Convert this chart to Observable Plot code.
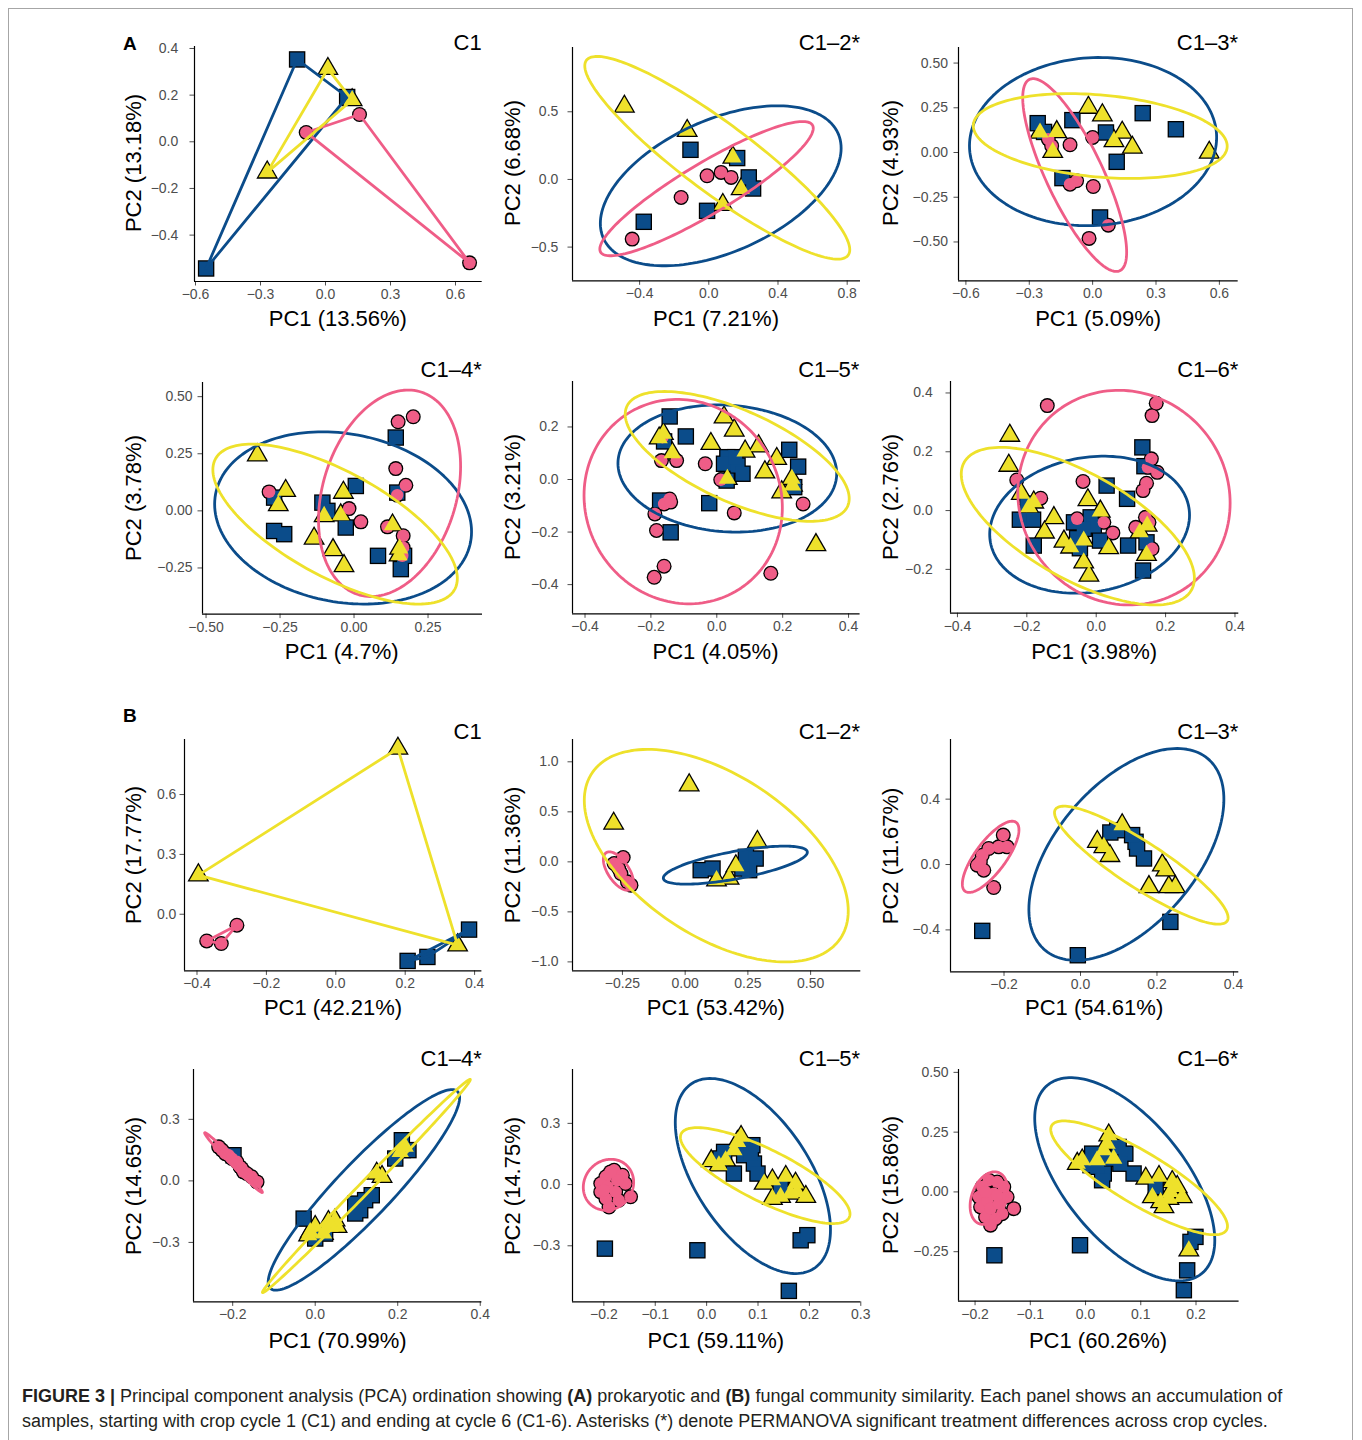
<!DOCTYPE html>
<html>
<head>
<meta charset="utf-8">
<script src="https://cdn.jsdelivr.net/npm/d3@7"></script>
<script src="https://cdn.jsdelivr.net/npm/@observablehq/plot@0.6"></script>
<style>
  html, body { margin: 0; padding: 0; background: #fff; }
  #fig { position: relative; width: 1362px; height: 1440px; overflow: hidden; font-family: "Liberation Sans", Arial, Helvetica, sans-serif; }
  #border { position: absolute; left: 8px; top: 8px; width: 1345px; height: 1460px; border: 1px solid #a6a6a6; box-sizing: border-box; }
  .panel { position: absolute; }
  .t { position: absolute; white-space: nowrap; line-height: 1; color: #000; }
  .xl { font-size: 22px; transform: translate(-50%, -50%); }
  .yl { font-size: 22px; transform: translate(-50%, -50%) rotate(-90deg); }
  .ti { font-size: 22px; transform: translate(-100%, -50%); }
  .tag { font-size: 19px; font-weight: bold; }
  .cap { position: absolute; left: 22px; font-size: 18px; color: #231f20; white-space: nowrap; line-height: 1; transform: translateY(-50%); }
</style>
</head>
<body>
<div id="fig"><div id="border"></div></div>
<script>
// ---------------- DATA ----------------
// Symbol groups: circle = pink, square = blue, triangle = yellow
// (A) prokaryotic
const A1_circles = [[-0.089,0.040],[0.157,0.117],[0.665,-0.519]];
const A1_squares = [[-0.131,0.353],[0.100,0.192],[-0.551,-0.543]];
const A1_triangles = [[0.011,0.313],[0.123,0.179],[-0.269,-0.131]];

const A2_circles = [[-0.010,0.027],[0.071,0.052],[0.129,0.015],[-0.160,-0.133],[-0.443,-0.441]];
const A2_squares = [[-0.106,0.219],[0.164,0.158],[0.231,0.015],[0.256,-0.067],[-0.010,-0.232],[-0.376,-0.313]];
const A2_triangles = [[-0.488,0.539],[-0.125,0.360],[0.139,0.163],[0.187,-0.071],[0.081,-0.187]];
const A2_ellipses = [["square",0.069,-0.047,0.696,0.591,0.47],["circle",-0.013,-0.068,0.617,0.496,0.90],["triangle",0.049,0.160,0.766,0.749,-0.907]];

const A3_circles = [[-0.194,0.037],[-0.107,0.043],[0.000,0.084],[-0.107,-0.177],[-0.076,-0.158],[0.003,-0.190],[0.074,-0.406],[-0.017,-0.480],[-0.210,0.075]];
const A3_squares = [[-0.260,0.164],[-0.230,0.115],[-0.096,0.181],[0.063,0.112],[0.237,0.220],[0.394,0.130],[0.114,-0.052],[-0.143,-0.143],[0.035,-0.363]];
const A3_triangles = [[-0.020,0.251],[0.046,0.209],[-0.170,0.115],[-0.249,0.112],[0.140,0.112],[0.101,0.065],[0.188,0.028],[-0.189,0.004],[0.552,0.000]];
const A3_ellipses = [["square",0.002,0.061,0.585,0.470,0.05],["circle",-0.085,-0.126,0.246,0.539,-0.80],["triangle",0.036,0.092,0.601,0.237,-0.24]];

const A4_circles = [[0.149,0.390],[0.200,0.412],[0.141,0.185],[0.175,0.112],[0.146,0.069],[-0.287,0.083],[-0.017,0.010],[0.023,-0.048],[0.113,-0.070],[0.166,-0.109],[0.166,-0.161],[0.163,-0.197]];
const A4_squares = [[0.141,0.321],[0.006,0.109],[0.146,0.080],[-0.270,0.058],[-0.107,0.036],[-0.090,0.000],[-0.028,-0.073],[-0.270,-0.088],[-0.236,-0.102],[0.081,-0.197],[0.169,-0.197],[0.158,-0.255]];
const A4_triangles = [[-0.327,0.244],[-0.231,0.088],[-0.256,0.026],[-0.036,0.080],[-0.045,-0.019],[-0.101,-0.022],[-0.135,-0.121],[-0.071,-0.171],[-0.034,-0.241],[0.130,-0.063],[0.154,-0.165],[0.152,-0.194]];
const A4_ellipses = [["square",-0.037,-0.031,0.434,0.377,-0.16],["circle",0.120,0.077,0.240,0.452,0.26],["triangle",-0.064,-0.058,0.413,0.350,-0.68]];

const A5_circles = [[-0.168,0.072],[-0.122,0.072],[-0.035,0.060],[0.012,-0.001],[-0.143,-0.074],[-0.160,-0.093],[-0.188,-0.131],[-0.183,-0.194],[-0.160,-0.330],[-0.190,-0.372],[0.053,-0.127],[0.164,-0.357],[0.262,-0.093],[-0.165,0.161],[-0.140,-0.086]];
const A5_squares = [[-0.143,0.240],[-0.094,0.164],[-0.160,0.145],[0.032,0.085],[0.022,0.060],[0.063,0.053],[0.078,0.022],[0.030,-0.004],[0.220,0.113],[0.247,0.049],[0.235,-0.029],[-0.023,-0.090],[-0.172,-0.080],[-0.140,-0.201],[0.056,0.085]];
const A5_triangles = [[0.022,0.237],[0.053,0.187],[-0.162,0.174],[-0.018,0.136],[-0.135,0.100],[0.086,0.107],[0.127,0.127],[0.182,0.079],[0.146,0.028],[0.228,0.003],[0.197,-0.048],[0.301,-0.249],[0.032,0.003],[-0.175,0.157],[0.230,-0.023]];
const A5_ellipses = [["square",0.032,0.042,0.332,0.242,-0.08],["circle",-0.102,-0.084,0.301,0.389,-0.06],["triangle",0.062,0.088,0.340,0.247,-0.65]];

const A6_circles = [[-0.141,0.357],[0.173,0.365],[0.161,0.323],[0.159,0.176],[0.149,0.147],[0.176,0.130],[0.145,0.093],[0.135,0.068],[-0.038,0.099],[-0.229,0.104],[-0.160,0.042],[-0.055,-0.028],[0.048,-0.076],[0.142,-0.023],[0.152,-0.040],[0.114,-0.057],[0.161,-0.130],[0.022,-0.040]];
const A6_squares = [[0.133,0.215],[0.139,0.151],[0.030,0.085],[0.089,0.040],[-0.220,-0.031],[-0.182,-0.031],[-0.180,-0.119],[-0.064,-0.040],[-0.016,-0.023],[-0.007,-0.051],[-0.055,-0.094],[-0.047,-0.128],[0.011,-0.102],[0.092,-0.119],[0.145,-0.108],[0.135,-0.204],[-0.199,0.023],[-0.036,-0.062]];
const A6_triangles = [[-0.249,0.255],[-0.252,0.153],[-0.216,0.057],[-0.180,0.028],[-0.024,0.036],[0.012,-0.003],[-0.122,-0.025],[-0.149,-0.074],[-0.093,-0.105],[0.036,-0.127],[-0.036,-0.176],[-0.021,-0.221],[0.126,-0.074],[0.145,-0.150],[0.147,-0.051],[-0.036,-0.102],[-0.194,0.011],[-0.074,-0.125]];
const A6_ellipses = [["square",-0.019,-0.048,0.288,0.233,0.14],["circle",0.080,0.044,0.306,0.365,-0.05],["triangle",-0.053,-0.053,0.336,0.268,-0.66]];

// (B) fungal
const B1_circles = [[-0.372,-0.134],[-0.330,-0.147],[-0.285,-0.055]];
const B1_squares = [[0.207,-0.234],[0.264,-0.214],[0.384,-0.077]];
const B1_triangles = [[0.179,0.831],[-0.396,0.196],[0.351,-0.155]];

const B2_circles = [[-0.247,0.043],[-0.265,-0.067],[-0.216,-0.233],[-0.283,-0.017],[-0.256,-0.117],[-0.230,-0.200]];
const B2_squares = [[0.062,-0.083],[0.109,-0.067],[0.242,0.050],[0.281,0.033],[0.255,-0.083],[0.228,-0.067]];
const B2_triangles = [[0.016,0.767],[-0.285,0.383],[0.288,0.200],[0.202,-0.043],[0.125,-0.183],[0.175,-0.167]];
const B2_ellipses = [["square",0.200,-0.033,0.287,0.190,0.68],["circle",-0.266,-0.092,0.060,0.192,-0.60],["triangle",0.124,0.062,0.526,1.062,-0.52]];

const B3_circles = [[-0.202,0.180],[-0.192,0.108],[-0.240,0.098],[-0.257,0.057],[-0.262,0.016],[-0.253,-0.035],[-0.227,-0.141],[-0.214,0.108],[-0.270,-0.004]];
const B3_squares = [[-0.257,-0.406],[-0.007,-0.555],[0.235,-0.351],[0.078,0.196],[0.144,0.139],[0.148,0.098],[0.166,0.037],[0.135,0.180],[0.096,0.210]];
const B3_triangles = [[0.109,0.241],[0.044,0.139],[0.061,0.108],[0.077,0.053],[0.214,-0.004],[0.223,-0.035],[0.179,-0.137],[0.231,-0.137],[0.248,-0.137]];
const B3_ellipses = [["square",0.120,0.062,0.255,0.648,0.52],["circle",-0.235,0.047,0.074,0.218,0.76],["triangle",0.159,-0.004,0.227,0.361,-0.89]];

const B4_circles = [[-0.234,0.166],[-0.226,0.150],[-0.218,0.133],[-0.210,0.125],[-0.202,0.109],[-0.190,0.093],[-0.182,0.068],[-0.178,0.060],[-0.174,0.044],[-0.166,0.036],[-0.154,0.020],[-0.141,-0.005]];
const B4_squares = [[-0.198,0.125],[-0.028,-0.184],[0.000,-0.281],[0.024,-0.257],[0.097,-0.111],[0.109,-0.143],[0.137,-0.070],[0.097,-0.159],[0.210,0.198],[0.194,0.109],[0.226,0.150],[0.121,-0.094]];
const B4_triangles = [[-0.012,-0.249],[0.000,-0.224],[0.036,-0.224],[0.048,-0.192],[0.053,-0.224],[0.020,-0.257],[0.149,0.036],[0.162,0.020],[0.206,0.141],[0.218,0.166],[0.032,-0.200],[-0.016,-0.265]];
const B4_ellipses = [["square",0.118,-0.044,0.232,0.489,0.92],["circle",-0.198,0.089,0.070,0.146,-0.99],["triangle",0.124,-0.025,0.252,0.520,0.997]];

const B5_circles = [[-0.180,0.070],[-0.196,0.038],[-0.206,0.005],[-0.206,-0.036],[-0.196,-0.069],[-0.190,-0.110],[-0.171,-0.077],[-0.148,-0.060],[-0.158,0.005],[-0.164,0.046],[-0.193,-0.011],[-0.174,0.021],[-0.187,0.062],[-0.200,-0.028],[-0.177,-0.036]];
const B5_squares = [[-0.198,-0.314],[-0.018,-0.322],[0.160,-0.521],[0.183,-0.273],[0.196,-0.248],[0.053,0.054],[0.034,0.160],[0.073,0.185],[0.089,0.193],[0.073,0.144],[0.092,0.103],[0.099,0.054],[0.144,-0.011],[0.086,0.152],[0.027,0.128]];
const B5_triangles = [[0.067,0.234],[0.060,0.209],[0.009,0.116],[0.037,0.119],[0.053,0.168],[0.128,0.021],[0.154,0.038],[0.173,0.005],[0.128,-0.069],[0.193,-0.060],[0.163,-0.044],[0.144,-0.060],[0.112,0.005],[0.176,-0.036],[0.024,0.095]];
const B5_ellipses = [["square",0.090,0.042,0.151,0.478,-0.55],["circle",-0.191,-0.001,0.049,0.125,0.10],["triangle",0.114,0.044,0.165,0.235,-0.80]];

const B6_circles = [[-0.175,0.049],[-0.187,0.021],[-0.193,-0.021],[-0.190,-0.063],[-0.181,-0.105],[-0.172,-0.139],[-0.163,-0.112],[-0.151,-0.091],[-0.130,-0.070],[-0.142,-0.021],[-0.148,0.021],[-0.160,0.042],[-0.166,-0.007],[-0.178,-0.035],[-0.172,-0.070],[-0.157,-0.049],[-0.181,0.000],[-0.160,-0.014]];
const B6_squares = [[-0.165,-0.265],[-0.010,-0.223],[0.178,-0.411],[0.184,-0.328],[0.190,-0.209],[0.199,-0.188],[0.012,0.160],[0.009,0.112],[0.033,0.077],[0.030,0.049],[0.060,0.188],[0.072,0.160],[0.087,0.077],[0.127,0.021],[0.045,0.139],[0.027,0.146],[0.021,0.105],[0.063,0.118]];
const B6_triangles = [[0.042,0.237],[0.039,0.202],[-0.006,0.132],[0.021,0.132],[0.051,0.139],[0.109,0.056],[0.133,0.063],[0.157,0.042],[0.166,0.021],[0.121,-0.021],[0.151,-0.028],[0.175,-0.021],[0.142,-0.063],[0.187,-0.244],[0.033,0.174],[-0.015,0.118],[0.154,0.000],[0.136,-0.042]];
const B6_ellipses = [["square",0.071,0.053,0.163,0.425,-0.60],["circle",-0.175,-0.026,0.034,0.110,0.30],["triangle",0.097,0.059,0.160,0.238,-0.85]];

// Titles and axis labels
const panelIds = ["A1","A2","A3","A4","A5","A6","B1","B2","B3","B4","B5","B6"];
const titles = ["C1","C1\u20132*","C1\u20133*","C1\u20134*","C1\u20135*","C1\u20136*","C1","C1\u20132*","C1\u20133*","C1\u20134*","C1\u20135*","C1\u20136*"];
const xLabels = ["PC1 (13.56%)","PC1 (7.21%)","PC1 (5.09%)","PC1 (4.7%)","PC1 (4.05%)","PC1 (3.98%)","PC1 (42.21%)","PC1 (53.42%)","PC1 (54.61%)","PC1 (70.99%)","PC1 (59.11%)","PC1 (60.26%)"];
const yLabels = ["PC2 (13.18%)","PC2 (6.68%)","PC2 (4.93%)","PC2 (3.78%)","PC2 (3.21%)","PC2 (2.76%)","PC2 (17.77%)","PC2 (11.36%)","PC2 (11.67%)","PC2 (14.65%)","PC2 (14.75%)","PC2 (15.86%)"];
// Tick values
const xTicks = [[-0.6,-0.3,0,0.3,0.6],[-0.4,0,0.4,0.8],[-0.6,-0.3,0,0.3,0.6],[-0.5,-0.25,0,0.25],[-0.4,-0.2,0,0.2,0.4],[-0.4,-0.2,0,0.2,0.4],
                [-0.4,-0.2,0,0.2,0.4],[-0.25,0,0.25,0.5],[-0.2,0,0.2,0.4],[-0.2,0,0.2,0.4],[-0.2,-0.1,0,0.1,0.2,0.3],[-0.2,-0.1,0,0.1,0.2]];
const yTicks = [[-0.4,-0.2,0,0.2,0.4],[-0.5,0,0.5],[-0.5,-0.25,0,0.25,0.5],[-0.25,0,0.25,0.5],[-0.4,-0.2,0,0.2],[-0.2,0,0.2,0.4],
                [0,0.3,0.6],[-1,-0.5,0,0.5,1],[-0.4,0,0.4],[-0.3,0,0.3],[-0.3,0,0.3],[-0.25,0,0.25,0.5]];
const xDecimals = [1,1,1,2,1,1,1,2,1,1,1,1];
const yDecimals = [1,1,2,2,1,1,1,1,1,1,1,2];
// Axis ranges (data units)
const xDomains = [[-0.6046,0.7232],[-0.788,0.877],[-0.635,0.689],[-0.512,0.434],[-0.438,0.435],[-0.420,0.411],
                  [-0.436,0.421],[-0.449,0.700],[-0.340,0.414],[-0.295,0.404],[-0.261,0.300],[-0.230,0.278]];
const yDomains = [[-0.5988,0.4085],[-0.749,0.975],[-0.717,0.587],[-0.452,0.562],[-0.511,0.373],[-0.349,0.439],
                  [-0.284,0.876],[-1.09,1.223],[-0.657,0.765],[-0.590,0.543],[-0.575,0.564],[-0.457,0.512]];

const DATA = {
  A1:[A1_circles,A1_squares,A1_triangles,null], A2:[A2_circles,A2_squares,A2_triangles,A2_ellipses],
  A3:[A3_circles,A3_squares,A3_triangles,A3_ellipses], A4:[A4_circles,A4_squares,A4_triangles,A4_ellipses],
  A5:[A5_circles,A5_squares,A5_triangles,A5_ellipses], A6:[A6_circles,A6_squares,A6_triangles,A6_ellipses],
  B1:[B1_circles,B1_squares,B1_triangles,null], B2:[B2_circles,B2_squares,B2_triangles,B2_ellipses],
  B3:[B3_circles,B3_squares,B3_triangles,B3_ellipses], B4:[B4_circles,B4_squares,B4_triangles,B4_ellipses],
  B5:[B5_circles,B5_squares,B5_triangles,B5_ellipses], B6:[B6_circles,B6_squares,B6_triangles,B6_ellipses]
};

// ---------------- LAYOUT & STYLE ----------------
// panel frame in page pixels: [left, top, right, bottom]
const FRAMES = [[194,45.7,481.7,280.7],[572,46.7,860,280],[958.3,46.7,1238,280],
                [201.7,381.7,481.7,613.3],[571.7,381,859.3,613.3],[950,381,1238.3,612.7],
                [184.3,739.3,481.7,970.7],[571.7,739.3,860,970.7],[950,739.3,1238.3,971.7],
                [193.3,1069.3,481.7,1301.7],[571.7,1069.3,860,1301.7],[957.7,1069.3,1238.3,1301]];
const Y_PAD = [11.7,9.7,6,5.4,9.4,13.3,3.6,9.4,6,9.3,7.7,5.4];
const TITLE_Y = [42.8,42.8,42.8,369.5,369.5,370,732.2,732.2,732.2,1058.8,1058.8,1058.8];
const XLAB_Y = [318.5,318.5,318.5,652,652,652,1008,1008,1008,1341,1341,1341];
const YLAB_X = [133.5,512.5,890.5];
const FONT = '"Liberation Sans", Arial, Helvetica, sans-serif';
const COLORS = {circle:"#EF5D87", square:"#0B4C8A", triangle:"#EEE12B"};
const OUTER_R = {circle:7.5, square:9.3, triangle:8.1};
const INNER_R = {circle:6.2, square:7.85, triangle:6.45};
const ORDER = ["square","circle","triangle"];
const GROUP_INDEX = {circle:0, square:1, triangle:2};

function ellipseLine(e) {
  const [, cx, cy, sx, sy, r] = e;
  const q = Math.sqrt(Math.max(0, 1 - r * r));
  const pts = [];
  const n = 160;
  for (let i = 0; i <= n; i++) {
    const t = 2 * Math.PI * i / n;
    pts.push({x: cx + sx * Math.cos(t), y: cy + sy * (r * Math.cos(t) + q * Math.sin(t))});
  }
  return pts;
}

const fig = document.getElementById("fig");
const ML = 90, MR = 16, MT = 16, MB = 40;

panelIds.forEach((id, i) => {
  const [L, T, R, B] = FRAMES[i];
  const W = R - L, H = B - T;
  const d = DATA[id];
  const rows = {};
  for (const g of ORDER) rows[g] = d[GROUP_INDEX[g]].map(([x, y]) => ({x, y, g}));
  const marks = [];
  for (const g of ORDER) marks.push(Plot.dot(rows[g], {x: "x", y: "y", symbol: g, r: OUTER_R[g], fill: "#000", stroke: "none"}));
  for (const g of ORDER) marks.push(Plot.dot(rows[g], {x: "x", y: "y", symbol: g, r: INNER_R[g], fill: COLORS[g], stroke: "none"}));
  if (d[3] === null) {
    for (const g of ORDER) marks.push(Plot.hull(rows[g], {x: "x", y: "y", stroke: COLORS[g], strokeWidth: 2.8, strokeLinejoin: "round"}));
  } else {
    for (const e of d[3]) marks.push(Plot.line(ellipseLine(e), {x: "x", y: "y", stroke: COLORS[e[0]], strokeWidth: 2.8}));
  }
  const fx = d3.format("." + xDecimals[i] + "f"), fy = d3.format("." + yDecimals[i] + "f");
  marks.push(Plot.axisX({ticks: xTicks[i], tickFormat: fx, tickSize: 4.5, tickPadding: 3, fontSize: 14, color: "#4d4d4d", label: null}));
  marks.push(Plot.axisY({ticks: yTicks[i], tickFormat: fy, tickSize: 4.5, tickPadding: Y_PAD[i], fontSize: 14, color: "#4d4d4d", label: null}));
  marks.push(Plot.ruleY([yDomains[i][0]], {stroke: "#000", strokeWidth: 1.2}));
  marks.push(Plot.ruleX([xDomains[i][0]], {stroke: "#000", strokeWidth: 1.2}));

  const chart = Plot.plot({
    width: W + ML + MR, height: H + MT + MB,
    marginLeft: ML, marginRight: MR, marginTop: MT, marginBottom: MB,
    x: {domain: xDomains[i], label: null},
    y: {domain: yDomains[i], label: null},
    style: {fontFamily: FONT, fontSize: "14px", background: "transparent", overflow: "visible"},
    marks
  });
  const wrap = document.createElement("div");
  wrap.className = "panel";
  wrap.style.left = (L - ML) + "px";
  wrap.style.top = (T - MT) + "px";
  wrap.appendChild(chart);
  fig.appendChild(wrap);

  const addText = (cls, txt, x, y) => {
    const el = document.createElement("div");
    el.className = "t " + cls;
    el.textContent = txt;
    el.style.left = x + "px";
    el.style.top = y + "px";
    fig.appendChild(el);
  };
  addText("ti", titles[i], R, TITLE_Y[i]);
  addText("xl", xLabels[i], (L + R) / 2, XLAB_Y[i]);
  addText("yl", yLabels[i], YLAB_X[i % 3], (T + B) / 2);
});

// Section tags
[["A", 123, 33.5], ["B", 123, 706]].forEach(([s, x, y]) => {
  const el = document.createElement("div");
  el.className = "t tag";
  el.textContent = s;
  el.style.left = x + "px";
  el.style.top = y + "px";
  fig.appendChild(el);
});

// Caption
const cap1 = document.createElement("div");
cap1.className = "cap";
cap1.style.top = "1396px";
cap1.innerHTML = '<b>FIGURE 3 |</b> Principal component analysis (PCA) ordination showing <b>(A)</b> prokaryotic and <b>(B)</b> fungal community similarity. Each panel shows an accumulation of';
fig.appendChild(cap1);
const cap2 = document.createElement("div");
cap2.className = "cap";
cap2.style.top = "1421px";
cap2.textContent = 'samples, starting with crop cycle 1 (C1) and ending at cycle 6 (C1-6). Asterisks (*) denote PERMANOVA significant treatment differences across crop cycles.';
fig.appendChild(cap2);
</script>
</body>
</html>
